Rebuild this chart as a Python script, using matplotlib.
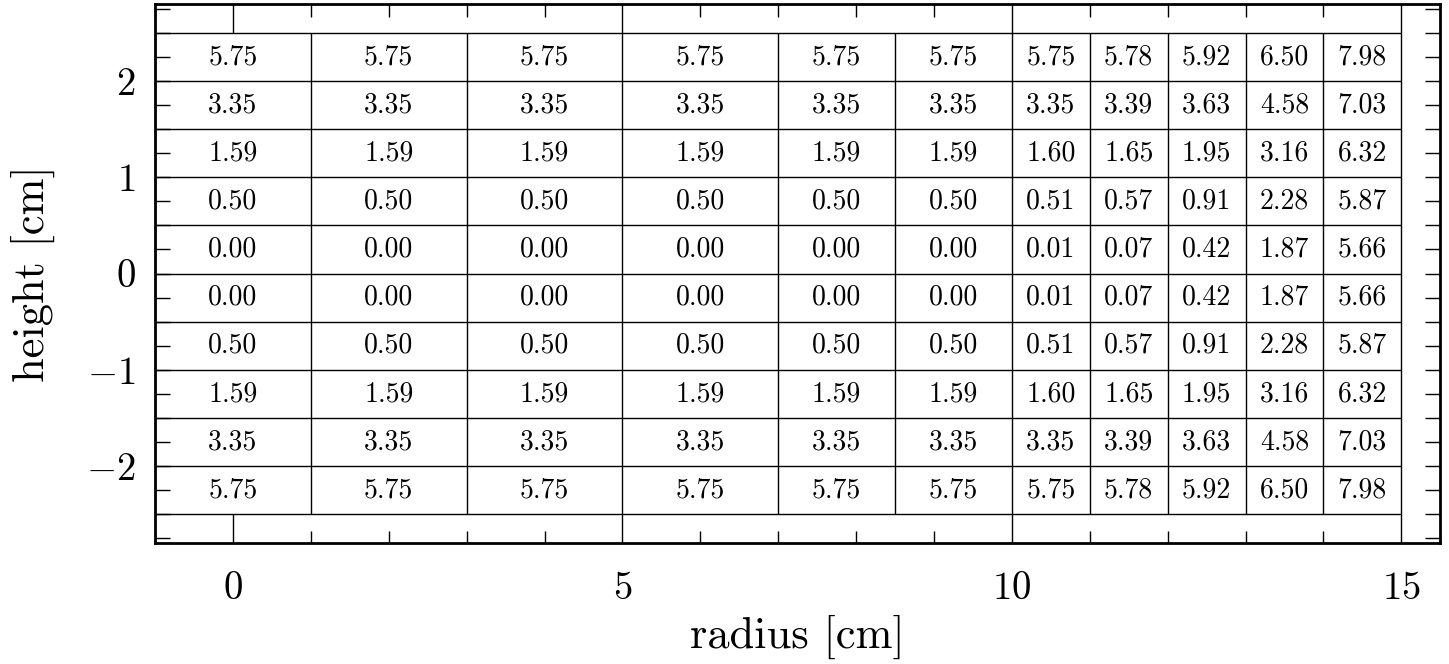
import matplotlib
matplotlib.use("Agg")
import matplotlib.pyplot as plt
from matplotlib.ticker import MultipleLocator

plt.rcParams["font.family"] = ["cmr10", "DejaVu Serif"]
plt.rcParams["mathtext.fontset"] = "cm"
plt.rcParams["axes.formatter.use_mathtext"] = True

# grid cell edges in radius and height
r_edges = [-1, 1, 3, 5, 7, 8.5, 10, 11, 12, 13, 14, 15]
z_edges = [2.5, 2.0, 1.5, 1.0, 0.5, 0.0, -0.5, -1.0, -1.5, -2.0, -2.5]

# cell values, top row first
cells = [
    [5.75, 5.75, 5.75, 5.75, 5.75, 5.75, 5.75, 5.78, 5.92, 6.50, 7.98],
    [3.35, 3.35, 3.35, 3.35, 3.35, 3.35, 3.35, 3.39, 3.63, 4.58, 7.03],
    [1.59, 1.59, 1.59, 1.59, 1.59, 1.59, 1.60, 1.65, 1.95, 3.16, 6.32],
    [0.50, 0.50, 0.50, 0.50, 0.50, 0.50, 0.51, 0.57, 0.91, 2.28, 5.87],
    [0.00, 0.00, 0.00, 0.00, 0.00, 0.00, 0.01, 0.07, 0.42, 1.87, 5.66],
    [0.00, 0.00, 0.00, 0.00, 0.00, 0.00, 0.01, 0.07, 0.42, 1.87, 5.66],
    [0.50, 0.50, 0.50, 0.50, 0.50, 0.50, 0.51, 0.57, 0.91, 2.28, 5.87],
    [1.59, 1.59, 1.59, 1.59, 1.59, 1.59, 1.60, 1.65, 1.95, 3.16, 6.32],
    [3.35, 3.35, 3.35, 3.35, 3.35, 3.35, 3.35, 3.39, 3.63, 4.58, 7.03],
    [5.75, 5.75, 5.75, 5.75, 5.75, 5.75, 5.75, 5.78, 5.92, 6.50, 7.98],
]

fig = plt.figure(figsize=(14.49, 6.64), dpi=100)
ax = fig.add_axes([0.107, 0.182, 0.887, 0.812])

ax.hlines(z_edges, r_edges[0], r_edges[-1], color="black", lw=1.0)
ax.vlines(r_edges, z_edges[-1], z_edges[0], color="black", lw=1.0)

for i, row in enumerate(cells):
    zc = 0.5 * (z_edges[i] + z_edges[i + 1])
    for j, val in enumerate(row):
        rc = 0.5 * (r_edges[j] + r_edges[j + 1])
        ax.text(rc, zc, f"{val:.2f}", ha="center", va="center", fontsize=20)

ax.set_xlim(-1, 15.5)
ax.set_ylim(-2.8, 2.8)

ax.xaxis.set_major_locator(MultipleLocator(5))
ax.xaxis.set_minor_locator(MultipleLocator(1))
ax.yaxis.set_major_locator(MultipleLocator(1))
ax.yaxis.set_minor_locator(MultipleLocator(0.25))

ax.tick_params(which="both", direction="in", top=True, right=True, width=1.0)
ax.tick_params(axis="x", which="major", length=21, pad=20, labelsize=28)
ax.tick_params(axis="x", which="minor", length=9)
ax.tick_params(axis="y", which="both", length=10.5, pad=14, labelsize=28)

for s in ax.spines.values():
    s.set_linewidth(2.0)

ax.set_xlabel("radius [cm]", fontsize=32, labelpad=6)
ax.set_ylabel("height [cm]", fontsize=32, labelpad=22)

fig.savefig("out.png", dpi=100)
